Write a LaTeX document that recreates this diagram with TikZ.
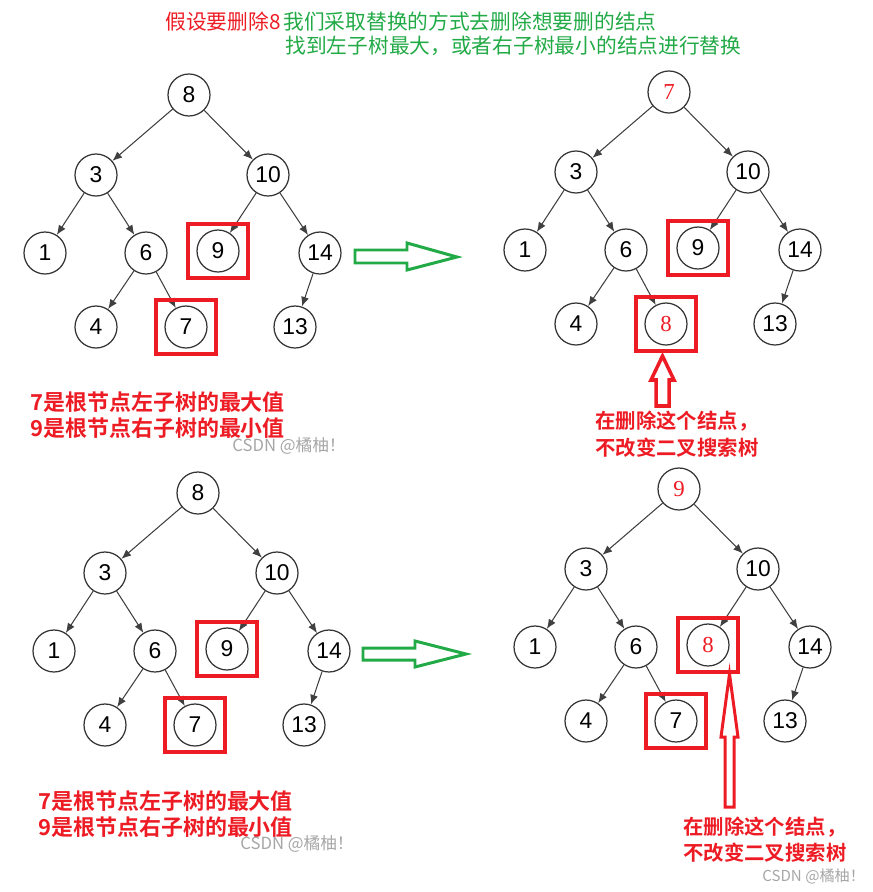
\documentclass[tikz,border=0pt]{standalone}
\usepackage{fontspec}
\setmainfont{Liberation Sans}
\newfontfamily\cjk{Noto Sans CJK SC}[BoldFont={Noto Sans CJK SC Bold}]
\newfontfamily\serifnum{Liberation Serif}
\usetikzlibrary{fit,positioning,arrows.meta}
\definecolor{mspred}{RGB}{237,28,36}
\definecolor{mspgreen}{RGB}{34,170,70}

\tikzset{
  num/.style={draw=black!80,circle,line width=0.7pt,minimum size=0.84cm,inner sep=0pt,font=\fontsize{13}{15}\selectfont},
  rednum/.style={num,text=mspred,font=\serifnum\fontsize{13}{15}\selectfont},
  edge/.style={draw=black!75,line width=0.6pt,-{Latex[length=5.5pt,width=4.5pt]}},
  redbox/.style={draw=mspred,line width=2.2pt,inner xsep=0.17cm,inner ysep=0.1cm},
  note/.style={inner sep=0pt,anchor=west,align=left,text=mspred,font=\cjk\bfseries\fontsize{12.5}{14.8}\selectfont},
  watermark/.style={inner sep=0pt,anchor=west,text=black!35,font=\cjk\fontsize{9.5}{11}\selectfont}
}

\begin{document}
\begin{tikzpicture}[x=0.02cm,y=-0.02cm]
  \useasboundingbox (0,0) rectangle (872,892);

  % heading
  \node[inner sep=0pt,anchor=west,text=mspred,font=\cjk\fontsize{11.8}{14}\selectfont] (head) at (165,22) {假设要删除8};
  \node[inner sep=0pt,anchor=west,text=mspgreen,font=\cjk\fontsize{11.8}{14}\selectfont] (headA) at (283,22) {我们采取替换的方式去删除想要删的结点};
  \node[inner sep=0pt,anchor=west,text=mspgreen,font=\cjk\fontsize{11.8}{14}\selectfont] (headB) at (285,46) {找到左子树最大，或者右子树最小的结点进行替换};

  % the four trees: name / root position / root, left and right marked node
  \foreach \t/\x/\y/\rl/\rs/\al/\as/\bl/\bs in {
      A/189/95/8/num/9/num/7/num,
      B/669/92/7/rednum/9/num/8/rednum,
      C/198/493/8/num/9/num/7/num,
      D/679/489/9/rednum/8/rednum/7/num}{
    \begin{scope}[shift={(\x,\y)}]
      \node[\rs] (\t-r)  at (0,0)      {\rl};
      \node[num] (\t-3)  at (-93,80)   {3};
      \node[num] (\t-10) at (79,80)    {10};
      \node[num] (\t-1)  at (-144,158) {1};
      \node[num] (\t-6)  at (-43,158)  {6};
      \node[\as] (\t-a)  at (29,156)   {\al};% right subtree minimum
      \node[num] (\t-14) at (131,158)  {14};
      \node[num] (\t-4)  at (-93,232)  {4};
      \node[\bs] (\t-b)  at (-3,232)   {\bl};% left subtree maximum
      \node[num] (\t-13) at (106,232)  {13};
    \end{scope}
    \draw[edge] (\t-r) -- (\t-3);
    \draw[edge] (\t-r) -- (\t-10);
    \draw[edge] (\t-3) -- (\t-1);
    \draw[edge] (\t-3) -- (\t-6);
    \draw[edge] (\t-10) -- (\t-a);
    \draw[edge] (\t-10) -- (\t-14);
    \draw[edge] (\t-6) -- (\t-4);
    \draw[edge] (\t-6) -- (\t-b);
    \draw[edge] (\t-14) -- (\t-13);
    \node[redbox,fit=(\t-a)] (\t-boxa) {};
    \node[redbox,fit=(\t-b)] (\t-boxb) {};
  }

  % hollow green arrows
  \draw[mspgreen,line width=1.7pt,line join=miter]
    (355,250) -- (407,250) -- (407,243) -- (457,257) -- (407,270) -- (407,263) -- (355,263) -- cycle;
  \draw[mspgreen,line width=1.7pt,line join=miter]
    (363,648) -- (415,648) -- (415,641) -- (466,654) -- (415,667) -- (415,660) -- (363,660) -- cycle;

  % hollow red arrows
  \draw[mspred,line width=2pt,line join=miter]
    (656,406) -- (656,380) -- (651,380) -- (662.5,356) -- (674,380) -- (669,380) -- (669,406) -- cycle;
  \draw[mspred,line width=1.7pt,line join=miter]
    (725,807) -- (725,737) -- (721,737) -- (729.5,674) -- (738,737) -- (734,737) -- (734,807) -- cycle;

  % notes
  \node[note] (noteA) at (30,415) {7是根节点左子树的最大值\\9是根节点右子树的最小值};
  \node[note] (noteC) at (38,814) {7是根节点左子树的最大值\\9是根节点右子树的最小值};
  \node[note,font=\cjk\bfseries\fontsize{11.6}{15.2}\selectfont] (noteB) at (595,434) {在删除这个结点，\\不改变二叉搜索树};
  \node[note,font=\cjk\bfseries\fontsize{11.6}{14.8}\selectfont] (noteD) at (683,840) {在删除这个结点，\\不改变二叉搜索树};

  % watermarks
  \node[watermark] (markA) at (232,446) {CSDN @橘柚！};
  \node[watermark] (markC) at (240,844) {CSDN @橘柚！};
  \node[watermark,font=\cjk\fontsize{8.6}{10}\selectfont] (markD) at (762,876) {CSDN @橘柚！};
\end{tikzpicture}
\end{document}
